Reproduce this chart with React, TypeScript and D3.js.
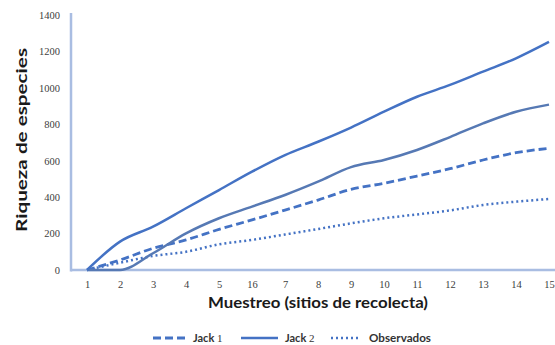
import { useEffect, useRef } from "react";
import * as d3 from "d3";

const samples = [1, 2, 3, 4, 5, 6, 7, 8, 9, 10, 11, 12, 13, 14, 15];
const xLabels = ["1", "2", "3", "4", "5", "16", "7", "8", "9", "10", "11", "12", "13", "14", "15"];
const yTicks = [0, 200, 400, 600, 800, 1000, 1200, 1400];

const jack1 = [0, 55, 119, 165, 223, 275, 329, 384, 443, 476, 516, 556, 604, 644, 668];
const jack2 = [0, 156, 238, 339, 439, 540, 631, 704, 782, 869, 951, 1016, 1089, 1162, 1252];
const jack2b = [0, 0, 92, 201, 284, 348, 412, 485, 565, 604, 659, 730, 805, 869, 908];
const observados = [0, 40, 77, 100, 141, 165, 195, 225, 256, 284, 305, 327, 357, 375, 390];

const W = 555;
const H = 345;
const left = 71;
const bottom = 270;
const top = 15;

export default function App() {
  const ref = useRef<SVGSVGElement>(null);
  const x = d3.scaleLinear().domain([1, 15]).range([87, 549]);
  const y = d3.scaleLinear().domain([0, 1400]).range([bottom, top]);
  const line = d3.line<number>().x((d, i) => x(samples[i])).y(d => y(d)).curve(d3.curveMonotoneX);

  useEffect(() => {
    const svg = d3.select(ref.current);
    const yAxis = svg.select<SVGGElement>("#yAxis");
    yAxis.call(d3.axisLeft(y).tickValues(yTicks).tickSize(0).tickPadding(11).tickFormat(d3.format("d")));
    yAxis.select(".domain").remove();
    yAxis.selectAll("text").attr("font-family", "'Liberation Serif', serif").attr("font-size", 10.5).attr("fill", "#404040");
    const xAxis = svg.select<SVGGElement>("#xAxis");
    xAxis.call(d3.axisBottom(x).tickValues(samples).tickSize(0).tickPadding(11).tickFormat((d, i) => xLabels[i]));
    xAxis.select(".domain").remove();
    xAxis.selectAll("text").attr("font-family", "'Liberation Serif', serif").attr("font-size", 10.5).attr("fill", "#404040");
  });

  const blue = "#4472C4";
  const blue2 = "#5679B4";
  const sans = "Lato, 'Open Sans', sans-serif";
  const serif = "'Liberation Serif', serif";

  return (
    <svg ref={ref} width={W} height={H} style={{ position: "absolute", left: 0, top: 0 }}>
      <rect width={W} height={H} fill="#fff" />
      <g id="yAxis" transform={`translate(${left},0)`}></g>
      <g id="xAxis" transform={`translate(0,${bottom})`}></g>
      <line x1={left} x2={left} y1={13} y2={bottom + 1.5} stroke="#A9BDE2" strokeWidth={2.5} />
      <line x1={left} x2={W} y1={bottom} y2={bottom} stroke="#A9BDE2" strokeWidth={2.5} />

      <path d={line(observados) ?? ""} fill="none" stroke={blue} strokeWidth={2.5} strokeDasharray="2,3" />
      <path d={line(jack1) ?? ""} fill="none" stroke={blue} strokeWidth={2.8} strokeDasharray="8,4" />
      <path d={line(jack2b) ?? ""} fill="none" stroke={blue2} strokeWidth={2.5} />
      <path d={line(jack2) ?? ""} fill="none" stroke={blue} strokeWidth={2.5} />

      <text transform="translate(27,140) rotate(-90)" textAnchor="middle" fontFamily={sans} fontWeight={700} fontSize={15} fill="#1a1a1a" textLength={184} lengthAdjust="spacingAndGlyphs">
        Riqueza de especies
      </text>
      <text x={318} y={308} textAnchor="middle" fontFamily={sans} fontWeight={700} fontSize={16} fill="#1a1a1a" textLength={220} lengthAdjust="spacingAndGlyphs">
        Muestreo (sitios de recolecta)
      </text>

      <g fontFamily={sans} fontWeight={700} fontSize={11} fill="#333">
        <line x1={153} x2={185} y1={338} y2={338} stroke={blue} strokeWidth={2.8} strokeDasharray="8,4" />
        <text x={193} y={342}>Jack <tspan fontFamily={serif} fontWeight={400}>1</tspan></text>
        <line x1={241} x2={278} y1={338} y2={338} stroke={blue} strokeWidth={2.5} />
        <text x={285} y={342}>Jack <tspan fontFamily={serif} fontWeight={400}>2</tspan></text>
        <line x1={331} x2={361} y1={338} y2={338} stroke={blue} strokeWidth={2.5} strokeDasharray="2,3" />
        <text x={369} y={342} textLength={62} lengthAdjust="spacingAndGlyphs">Observados</text>
      </g>
    </svg>
  );
}
